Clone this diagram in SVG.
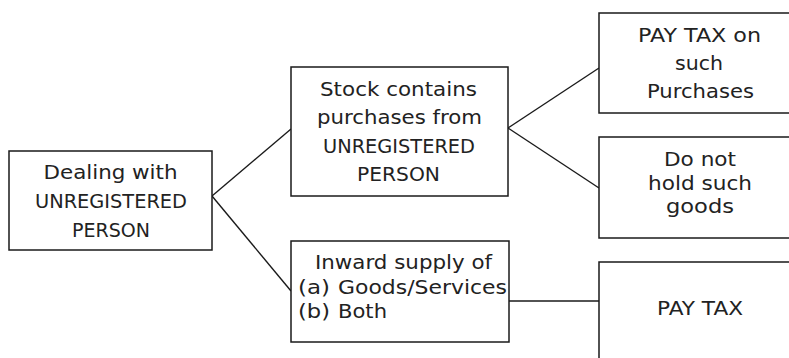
<svg xmlns="http://www.w3.org/2000/svg" width="789" height="358" viewBox="0 0 789 358">
<style>
.box{fill:#fff;stroke:#1a1a1a;stroke-width:1.5}
.ln{stroke:#1a1a1a;stroke-width:1.4;fill:none}
text{font-family:"DejaVu Sans","Liberation Sans",sans-serif;font-size:20px;fill:#222}
.c{text-anchor:middle}
</style>
<rect width="789" height="358" fill="#fff"/>
<g id="connectors">
<line class="ln" x1="212" y1="196" x2="291" y2="129"/>
<line class="ln" x1="212" y1="196" x2="291" y2="291"/>
<line class="ln" x1="508" y1="128" x2="599" y2="68"/>
<line class="ln" x1="508" y1="128" x2="599" y2="188"/>
<line class="ln" x1="509" y1="301" x2="599" y2="301"/>
</g>
<g id="n1">
<rect class="box" x="9" y="151" width="203" height="99"/>
<text class="c" x="110.5" y="179" textLength="134" lengthAdjust="spacingAndGlyphs">Dealing with</text>
<text class="c" x="111" y="208" textLength="152" lengthAdjust="spacingAndGlyphs">UNREGISTERED</text>
<text class="c" x="111" y="237" textLength="78" lengthAdjust="spacingAndGlyphs">PERSON</text>
</g>
<g id="n2">
<rect class="box" x="291" y="67" width="217" height="129"/>
<text class="c" x="398.5" y="96" textLength="157" lengthAdjust="spacingAndGlyphs">Stock contains</text>
<text class="c" x="399.5" y="124" textLength="165" lengthAdjust="spacingAndGlyphs">purchases from</text>
<text class="c" x="399" y="153" textLength="152" lengthAdjust="spacingAndGlyphs">UNREGISTERED</text>
<text class="c" x="398.5" y="181" textLength="83" lengthAdjust="spacingAndGlyphs">PERSON</text>
</g>
<g id="n3">
<rect class="box" x="291" y="241" width="218" height="101"/>
<text class="c" x="403.5" y="269" textLength="177" lengthAdjust="spacingAndGlyphs">Inward supply of</text>
<text x="298" y="294" textLength="32" lengthAdjust="spacingAndGlyphs">(a)</text>
<text x="338" y="294" textLength="169" lengthAdjust="spacingAndGlyphs">Goods/Services</text>
<text x="298" y="318" textLength="32" lengthAdjust="spacingAndGlyphs">(b)</text>
<text x="338" y="318" textLength="49" lengthAdjust="spacingAndGlyphs">Both</text>
</g>
<g id="n4">
<rect class="box" x="599" y="13" width="200" height="100"/>
<text class="c" x="699.5" y="42" textLength="123" lengthAdjust="spacingAndGlyphs">PAY TAX on</text>
<text class="c" x="699" y="70" textLength="48" lengthAdjust="spacingAndGlyphs">such</text>
<text class="c" x="700.5" y="98" textLength="107" lengthAdjust="spacingAndGlyphs">Purchases</text>
</g>
<g id="n5">
<rect class="box" x="599" y="137" width="200" height="101"/>
<text class="c" x="700" y="166" textLength="72" lengthAdjust="spacingAndGlyphs">Do not</text>
<text class="c" x="700" y="190" textLength="104" lengthAdjust="spacingAndGlyphs">hold such</text>
<text class="c" x="700" y="213" textLength="68" lengthAdjust="spacingAndGlyphs">goods</text>
</g>
<g id="n6">
<rect class="box" x="599" y="262" width="200" height="110"/>
<text class="c" x="700" y="315" textLength="86" lengthAdjust="spacingAndGlyphs">PAY TAX</text>
</g>
</svg>
